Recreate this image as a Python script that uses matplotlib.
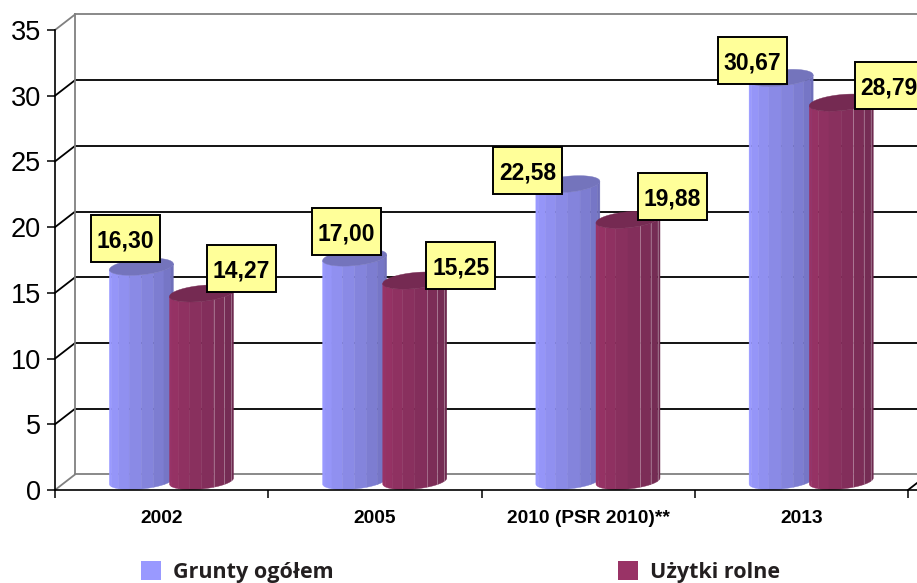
import numpy as np
import matplotlib
matplotlib.use("Agg")
import matplotlib.pyplot as plt
from matplotlib.patches import Patch, Polygon, Rectangle
from matplotlib.colors import to_rgb

# ---- data ----
categories = ["2002", "2005", "2010 (PSR 2010)**", "2013"]
grunty = [16.30, 17.00, 22.58, 30.67]
uzytki = [14.27, 15.25, 19.88, 28.79]
series_names = ["Grunty ogółem", "Użytki rolne"]
y_ticks = [0, 5, 10, 15, 20, 25, 30, 35]

# ---- style / layout ----
W, H = 917, 583
PX_X = 213.25            # pixels per category
PX_Y = 13.14             # pixels per value unit
DEPTH_X = 20 / PX_X
DEPTH_Y = 15.5 / PX_Y
BASE = 9 / PX_Y
A = 32 / PX_X
B = 8 / PX_Y
SHEAR = 3 / PX_Y
BAR_POS = [0.405, 0.687]
LIGHT = ["#9999FF", "#993366"]
DARK = ["#6F6FBA", "#6E2A50"]
TOP = ["#7474BC", "#752A52"]
# label box centre offset from the bar's top, in pixels
LABEL_OFF = [[(-16, 28), (-8.5, 26), (-40, 14), (-29, 17)],
             [(40, 25), (46, 15), (44, 23), (48, 17)]]

plt.rcParams["font.family"] = ["Liberation Sans", "DejaVu Sans"]
fig = plt.figure(figsize=(W / 100, H / 100), dpi=100)
ax = fig.add_axes([55 / W, (H - 490) / H, (W - 55) / W, 460 / H])
ax.set_xlim(0, (W - 55) / PX_X)
ax.set_ylim(0, 35)
ax.patch.set_visible(False)

# walls and gridlines
GRAY = "#808080"
for v in y_ticks:
    c = GRAY if v in (0, 35) else "black"
    ax.plot([DEPTH_X, 5], [v + DEPTH_Y] * 2, color=c, lw=1.3, zorder=1)
    ax.plot([0, DEPTH_X], [v, v + DEPTH_Y], color=c, lw=1.3, zorder=1)
ax.plot([DEPTH_X, DEPTH_X], [DEPTH_Y, 35 + DEPTH_Y], color=GRAY, lw=1.3, zorder=1.5)
ax.plot([4, 4 + DEPTH_X], [0, DEPTH_Y], color="black", lw=1.3, zorder=1)
for ln in ax.lines:
    ln.set_clip_on(False)


def cylinder(cx, value, light, dark, top, seams):
    t = np.linspace(np.pi, 2 * np.pi, 9)
    y0, y1 = BASE, BASE + value

    def rim(tt, y):
        return cx + A * np.cos(tt), y - B * np.abs(np.sin(tt)) + SHEAR * np.cos(tt)

    l, d = np.array(to_rgb(light)), np.array(to_rgb(dark))
    for i in range(len(t) - 1):
        seg = np.linspace(t[i], t[i + 1], 8)
        xb, yb = rim(seg, y0)
        xt, yt = rim(seg[::-1], y1)
        f = (i / (len(t) - 2)) ** 1.2
        col = l + (d - l) * f
        ax.add_patch(Polygon(np.c_[np.r_[xb, xt], np.r_[yb, yt]], closed=True,
                             fc=col, ec=col, lw=0.3, zorder=3))
    if seams:
        for k in (5, 6, 7):
            xs, ys = rim(np.array([t[k]]), y0)
            xe, ye = rim(np.array([t[k]]), y1)
            ax.plot([xs[0], xe[0]], [ys[0], ye[0]], color="white", alpha=0.3,
                    lw=0.7, zorder=3.2)
    tt = np.linspace(0, 2 * np.pi, 60)
    ax.add_patch(Polygon(np.c_[cx + A * np.cos(tt),
                               y1 + B * np.sin(tt) + SHEAR * np.cos(tt)],
                         closed=True, fc=top, ec=top, lw=0.3, zorder=3.3))


for i in range(len(categories)):
    for s, vals in enumerate((grunty, uzytki)):
        cylinder(i + BAR_POS[s], vals[i], LIGHT[s], DARK[s], TOP[s], s == 1)

# value labels
BW, BH = 69 / PX_X, 47 / PX_Y
for s, vals in enumerate((grunty, uzytki)):
    for i, v in enumerate(vals):
        dx, dy = LABEL_OFF[s][i]
        cx = i + BAR_POS[s] + dx / PX_X
        cy = BASE + v + dy / PX_Y
        ax.add_patch(Rectangle((cx - BW / 2, cy - BH / 2), BW, BH, fc="#FFFF99", ec="black",
                               lw=1.4, zorder=5, clip_on=False))
        ax.text(cx, cy, f"{v:.2f}".replace(".", ","), ha="center", va="center_baseline",
                fontsize=16.5, fontweight="bold", color="black", zorder=6, clip_on=False)

# axes
for side in ("top", "right"):
    ax.spines[side].set_visible(False)
for side in ("left", "bottom"):
    ax.spines[side].set_linewidth(1.2)
    ax.spines[side].set_zorder(7)
ax.set_yticks(y_ticks)
ax.tick_params(axis="y", length=5.8, width=1.1, pad=4.3, labelsize=19.5)
ax.set_xticks(np.arange(len(categories)) + 0.5, categories)
ax.set_xticks(np.arange(len(categories) + 1), minor=True)
ax.tick_params(axis="x", which="major", length=0, pad=14.2, labelsize=13.8)
ax.tick_params(axis="x", which="minor", length=5.8, width=1.1)
for lab in ax.get_xticklabels():
    lab.set_fontweight("bold")

# legend
handles = [Patch(fc=LIGHT[k], ec="none", label=series_names[k]) for k in range(2)]
leg = fig.legend(handles=handles, ncols=2, frameon=False, loc="lower left",
                 bbox_to_anchor=(141 / W, 0 / H), borderpad=0, borderaxespad=0,
                 handlelength=0.93, handleheight=0.93, handletextpad=0.56,
                 columnspacing=13.2,
                 prop={"family": "Open Sans", "weight": "bold", "size": 15.5})
for t in leg.get_texts():
    t.set_color("#231F20")

fig.savefig("out.png", dpi=100)
